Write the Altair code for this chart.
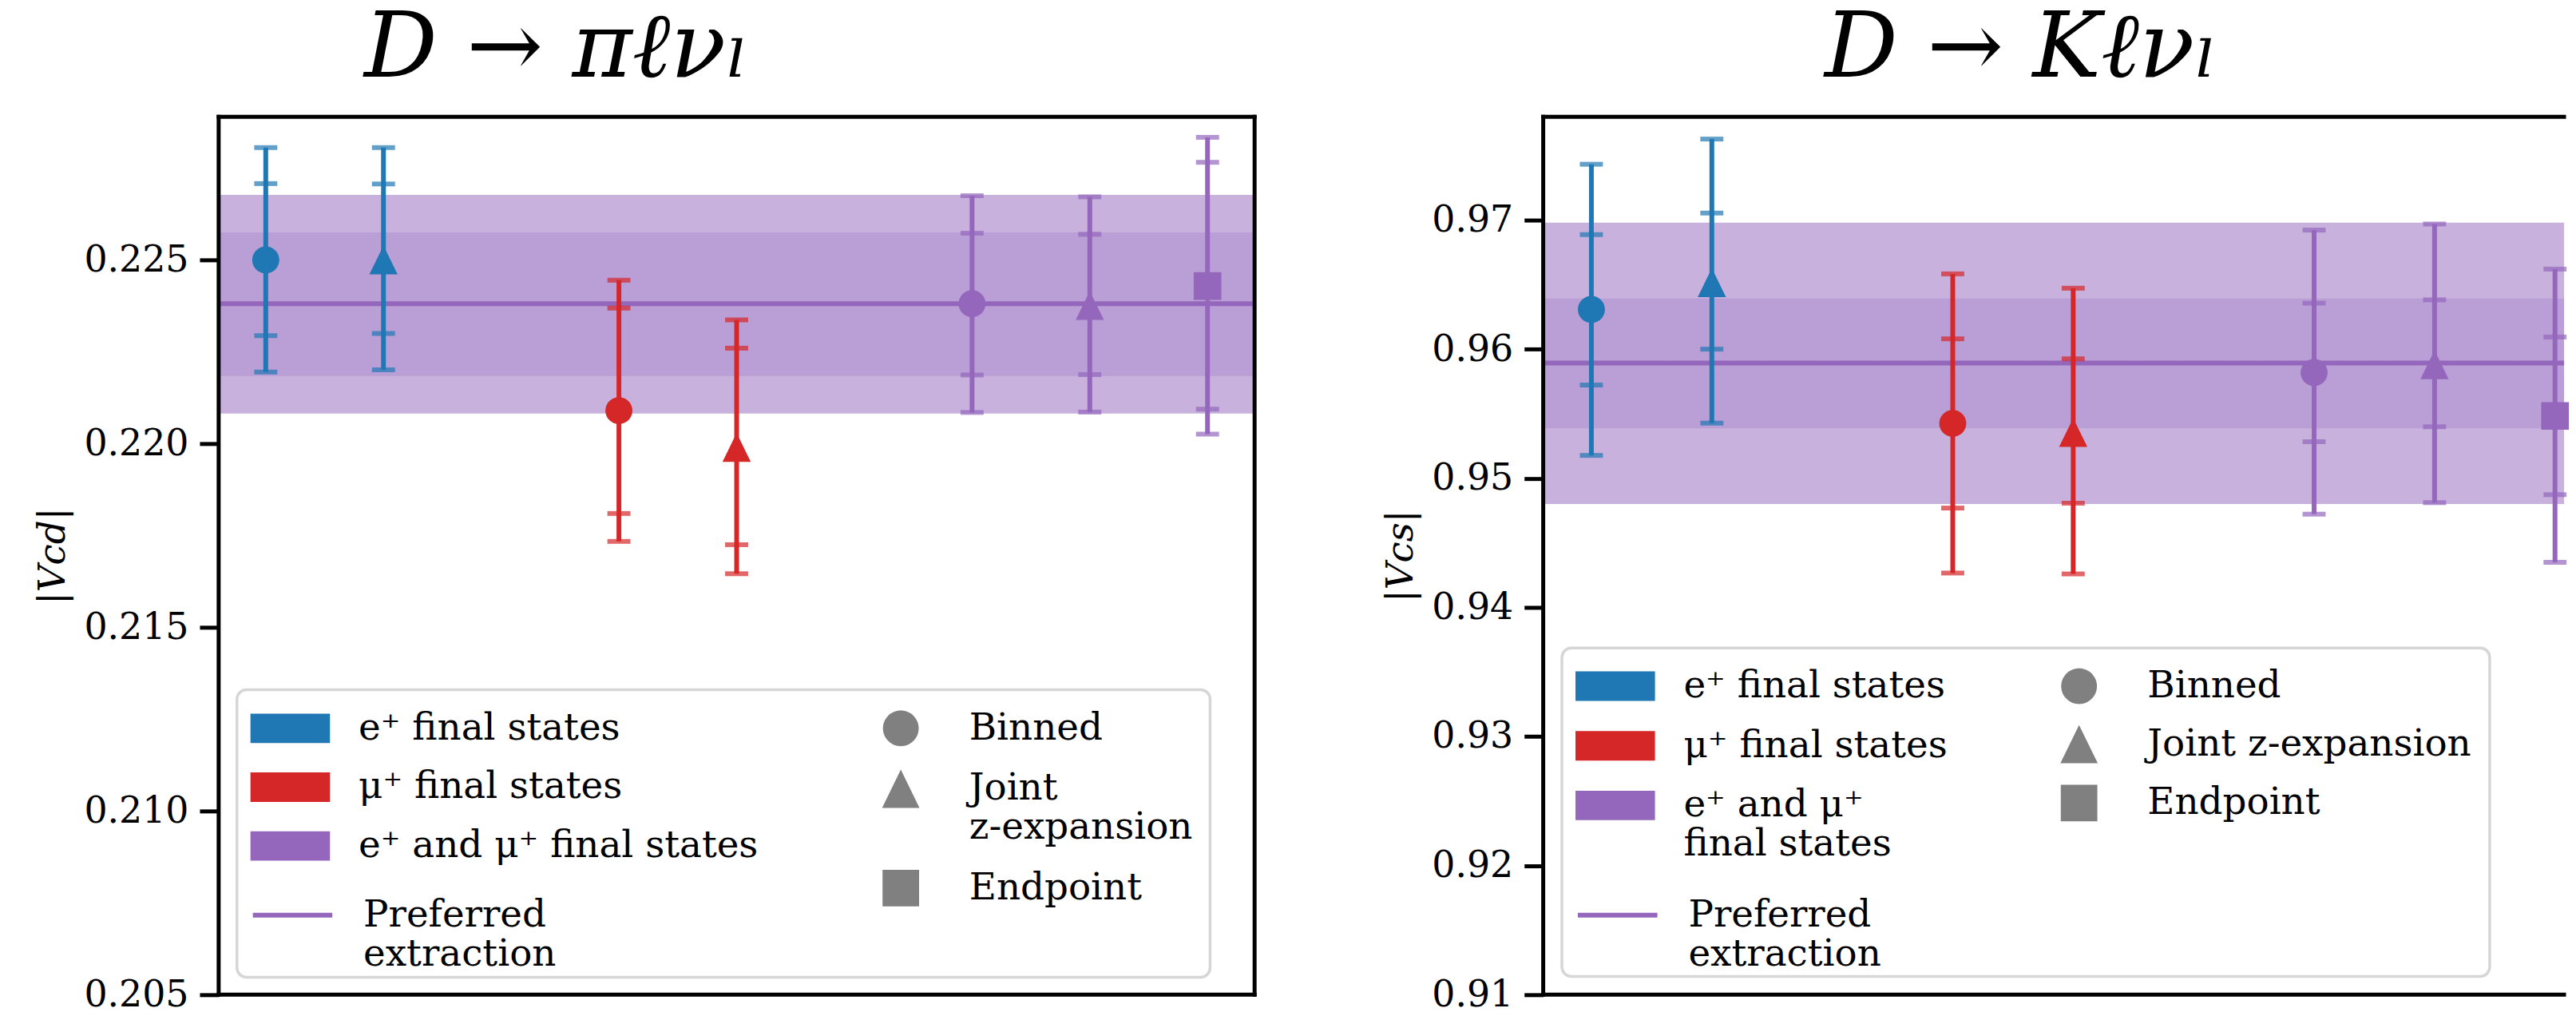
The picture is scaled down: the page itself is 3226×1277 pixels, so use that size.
import altair as alt
import pandas as pd

# ---------------- data ----------------
x_pos = [0, 1, 3, 4, 6, 7, 8]
lepton = ["e⁺ final states", "e⁺ final states", "μ⁺ final states", "μ⁺ final states",
          "e⁺ and μ⁺ final states", "e⁺ and μ⁺ final states", "e⁺ and μ⁺ final states"]
method = ["Binned", "Joint z-expansion", "Binned", "Joint z-expansion",
          "Binned", "Joint z-expansion", "Endpoint"]
lepton_kinds = ["e⁺ final states", "μ⁺ final states", "e⁺ and μ⁺ final states"]
lepton_colors = ["#1f77b4", "#d62728", "#9467bd"]
method_kinds = ["Binned", "Joint z-expansion", "Endpoint"]
pref_name = ["Preferred extraction"]

# D -> pi l nu : |V_cd|
vcd_center = [0.22500, 0.22500, 0.22090, 0.21990, 0.22381, 0.22376, 0.22429]
vcd_outer_lo = [0.22195, 0.22201, 0.21734, 0.21646, 0.22085, 0.22086, 0.22026]
vcd_outer_hi = [0.22806, 0.22806, 0.22445, 0.22337, 0.22675, 0.22672, 0.22834]
vcd_inner_lo = [0.22294, 0.22300, 0.21810, 0.21725, 0.22187, 0.22188, 0.22094]
vcd_inner_hi = [0.22708, 0.22707, 0.22369, 0.22260, 0.22573, 0.22570, 0.22766]
vcd_pref = [0.22381]
vcd_band_inner = [0.22184, 0.22575]
vcd_band_outer = [0.22082, 0.22677]
vcd_ticks = [0.205, 0.210, 0.215, 0.220, 0.225]

# D -> K l nu : |V_cs|
vcs_center = [0.96307, 0.96515, 0.95425, 0.95354, 0.95818, 0.95879, 0.95483]
vcs_outer_lo = [0.95177, 0.95427, 0.94266, 0.94259, 0.94722, 0.94811, 0.94349]
vcs_outer_hi = [0.97432, 0.97627, 0.96583, 0.96472, 0.96922, 0.96969, 0.96620]
vcs_inner_lo = [0.95722, 0.96000, 0.94769, 0.94807, 0.95283, 0.95399, 0.94873]
vcs_inner_hi = [0.96887, 0.97054, 0.96080, 0.95925, 0.96356, 0.96382, 0.96094]
vcs_pref = [0.95892]
vcs_band_inner = [0.95387, 0.96392]
vcs_band_outer = [0.94800, 0.96979]
vcs_ticks = [0.91, 0.92, 0.93, 0.94, 0.95, 0.96, 0.97]

# ---------------- styles ----------------
PATCH = "M-1,-0.37H1V0.37H-1Z"
CIRCLE = "M0.45,0A0.45,0.45,0,1,1,-0.45,0A0.45,0.45,0,1,1,0.45,0Z"
TRI = "M0,-0.48L0.47,0.48L-0.47,0.48Z"
SQUARE = "M-0.46,-0.46H0.46V0.46H-0.46Z"
method_shapes = [CIRCLE, TRI, SQUARE]

PURPLE = "#9467bd"
GRAY = "#808080"
FONT = "DejaVu Serif"
PLOT_H = 1104

EXPR_PREF = ("datum.label == 'Preferred extraction' ? ['Preferred', 'extraction'] : "
             "datum.label")
EXPR_JOINT = ("datum.label == 'Joint z-expansion' ? ['Joint', 'z-expansion'] : "
              "datum.label")
EXPR_EMU = ("datum.label == 'e⁺ and μ⁺ final states' ? ['e⁺ and μ⁺', 'final states'] : "
            "datum.label")


def mk_leg(x, y, rp, expr=None, **kw):
    args = dict(title=None, orient="none", legendX=x, legendY=y, direction="vertical",
                rowPadding=rp, symbolSize=10000, labelFont=FONT, labelFontSize=47,
                labelColor="black", labelOffset=36, labelLimit=2000, padding=0)
    if expr:
        args["labelExpr"] = expr
    args.update(kw)
    return alt.Legend(**args)


def reorder(order):
    return ([lepton_kinds[i] for i in order], [lepton_colors[i] for i in order])


def build_panel(center, olo, ohi, ilo, ihi, pref, band_in, band_out, ydomain, yticks,
                yfmt, ytitle, title_text, title_dx, width, xmax, leg_a1, leg_a2, leg_b,
                box, right_edge):
    pts = pd.DataFrame({"x": x_pos, "y": center, "olo": olo, "ohi": ohi,
                        "lep": lepton, "method": method})
    cap_rows = []
    for i in range(len(x_pos)):
        for v in (olo[i], ohi[i], ilo[i], ihi[i]):
            cap_rows.append({"x": x_pos[i], "y": v, "lep": lepton[i]})
    caps = pd.DataFrame(cap_rows)
    band_o = pd.DataFrame({"lo": [band_out[0]], "hi": [band_out[1]]})
    band_i = pd.DataFrame({"lo": [band_in[0]], "hi": [band_in[1]]})
    pref_df = pd.DataFrame({"v": pref, "pname": pref_name})
    one = pd.DataFrame({"f": [0]})

    xscale = alt.Scale(domain=[-0.4, xmax], nice=False, zero=False)
    yscale = alt.Scale(domain=ydomain, nice=False, zero=False)
    yaxis = alt.Axis(values=yticks, format=yfmt, title=ytitle, titleFont=FONT,
                     titleFontStyle="italic", titleFontWeight="normal", titleFontSize=47,
                     titleColor="black", titlePadding=14, labelFont=FONT, labelFontSize=46,
                     labelColor="black", labelPadding=14, labelOverlap=False,
                     labelFlush=False, tickSize=24, tickWidth=5, tickColor="black",
                     domain=False, grid=False)
    # distinct domain orders keep the unlabelled colour scales apart from the legend ones
    d_fill, r_fill = reorder([0, 1, 2])
    d_stroke, r_stroke = reorder([1, 0, 2])
    d_color, r_color = reorder([2, 0, 1])

    xenc = alt.X("x:Q", scale=xscale, axis=None)

    outer = alt.Chart(band_o).mark_rect(color="#c8b1dc").encode(
        x=alt.value(0), x2=alt.value("width"),
        y=alt.Y("lo:Q", scale=yscale, axis=yaxis), y2="hi:Q")
    inner = alt.Chart(band_i).mark_rect(color="#b99fd5").encode(
        x=alt.value(0), x2=alt.value("width"),
        y=alt.Y("lo:Q", scale=yscale, axis=yaxis), y2="hi:Q")
    line = alt.Chart(pref_df).mark_rule(color=PURPLE, strokeWidth=6).encode(
        y=alt.Y("v:Q", scale=yscale, axis=yaxis),
        strokeDash=alt.StrokeDash("pname:N", scale=alt.Scale(domain=pref_name,
                                                              range=[[1, 0]]),
                                  legend=leg_a2))
    bars = alt.Chart(pts).mark_rule(strokeWidth=6).encode(
        x=xenc, y=alt.Y("olo:Q", scale=yscale, axis=yaxis), y2="ohi:Q",
        stroke=alt.Stroke("lep:N", scale=alt.Scale(domain=d_stroke, range=r_stroke),
                          legend=None))
    capl = alt.Chart(caps).mark_tick(orient="horizontal", size=29, thickness=6).encode(
        x=xenc, y=alt.Y("y:Q", scale=yscale, axis=yaxis),
        color=alt.Color("lep:N", scale=alt.Scale(domain=d_color, range=r_color),
                        legend=None))
    points = alt.Chart(pts).mark_point(filled=True, opacity=1, size=5713).encode(
        x=xenc, y=alt.Y("y:Q", scale=yscale, axis=yaxis),
        fill=alt.Fill("lep:N", scale=alt.Scale(domain=d_fill, range=r_fill),
                      legend=leg_a1),
        shape=alt.Shape("method:N", scale=alt.Scale(domain=method_kinds,
                                                     range=method_shapes),
                        legend=leg_b))
    legend_box = alt.Chart(one).mark_rect(
        fill="white", stroke="#d6d6d6", strokeWidth=3.5, cornerRadius=12).encode(
        x=alt.value(box[0]), x2=alt.value(box[1]), y=alt.value(box[2]),
        y2=alt.value(box[3]))

    fr = dict(color="black", strokeWidth=5, strokeCap="square")
    frame = [
        alt.Chart(one).mark_rule(**fr).encode(x=alt.value(0), x2=alt.value("width"),
                                              y=alt.value(0)),
        alt.Chart(one).mark_rule(**fr).encode(x=alt.value(0), x2=alt.value("width"),
                                              y=alt.value("height")),
        alt.Chart(one).mark_rule(**fr).encode(x=alt.value(0), y=alt.value(0),
                                              y2=alt.value("height")),
    ]
    if right_edge:
        frame.append(alt.Chart(one).mark_rule(**fr).encode(
            x=alt.value("width"), y=alt.value(0), y2=alt.value("height")))

    return alt.layer(outer, inner, line, bars, capl, points, legend_box, *frame).properties(
        width=width, height=PLOT_H,
        title=alt.TitleParams(text=title_text, font=FONT, fontStyle="italic",
                              fontWeight="normal", fontSize=115, color="black",
                              anchor="start", frame="group", dx=title_dx, offset=-68,
                              baseline="alphabetic"))


left = build_panel(
    vcd_center, vcd_outer_lo, vcd_outer_hi, vcd_inner_lo, vcd_inner_hi,
    vcd_pref, vcd_band_inner, vcd_band_outer, [0.205, 0.2289], vcd_ticks,
    ".3f", "|Vcd|", "D → πℓνₗ", 183, 1303, 8.4,
    mk_leg(40, 719, 1, None, symbolType=PATCH, symbolStrokeWidth=0),
    mk_leg(40, 951, 0, EXPR_PREF, symbolType="stroke", symbolStrokeWidth=6,
           symbolStrokeColor=PURPLE),
    mk_leg(808, 719, 3, EXPR_JOINT, symbolFillColor=GRAY, symbolStrokeWidth=0),
    (23, 1247, 720.5, 1082), True)

right = build_panel(
    vcs_center, vcs_outer_lo, vcs_outer_hi, vcs_inner_lo, vcs_inner_hi,
    vcs_pref, vcs_band_inner, vcs_band_outer, [0.91, 0.978], vcs_ticks,
    ".2f", "|Vcs|", "D → Kℓνₗ", 354, 1284, 8.075,
    mk_leg(40.6, 666, 2, EXPR_EMU, symbolType=PATCH, symbolStrokeWidth=0),
    mk_leg(40.6, 951, 0, EXPR_PREF, symbolType="stroke", symbolStrokeWidth=6,
           symbolStrokeColor=PURPLE),
    mk_leg(624, 666, -4, None, symbolFillColor=GRAY, symbolStrokeWidth=0),
    (23.5, 1190.5, 668, 1081), False)

chart = alt.hconcat(left, right, spacing=156).resolve_scale(
    x="independent", y="independent", color="independent", shape="independent",
    stroke="independent", fill="independent", strokeDash="independent"
).resolve_legend(
    color="independent", shape="independent", stroke="independent",
    fill="independent", strokeDash="independent"
).properties(
    padding={"left": 35, "top": -7, "right": 0, "bottom": 0}
).configure_view(stroke=None)

chart.save("out.html", embed_options={"renderer": "svg", "actions": False})
